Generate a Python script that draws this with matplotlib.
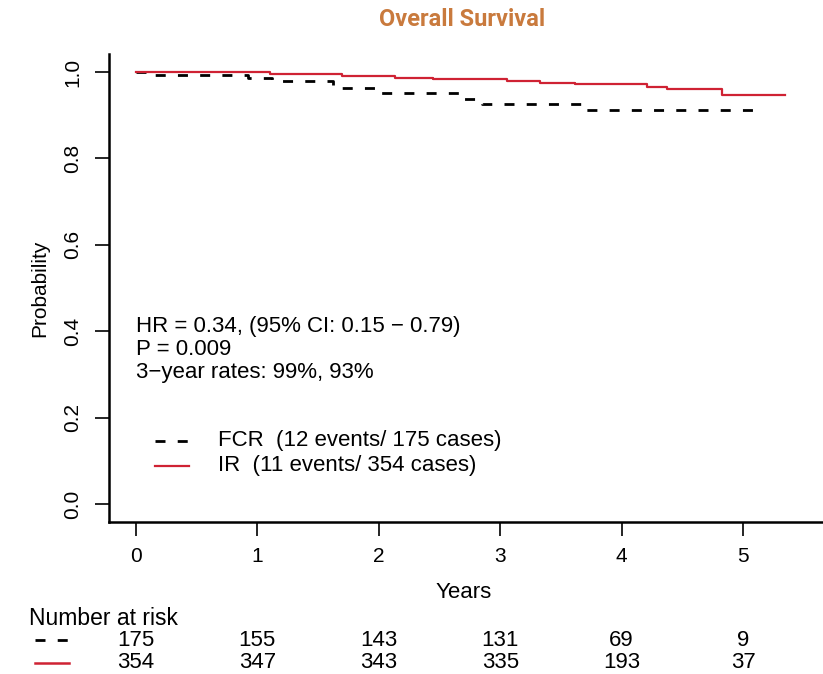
import matplotlib
matplotlib.use("Agg")
import matplotlib.pyplot as plt

# Kaplan-Meier step data (years, survival probability)
fcr_times = [0.0, 0.15, 0.92, 1.12, 1.62, 2.00, 2.66, 2.85, 3.71]
fcr_surv = [1.000, 0.994, 0.987, 0.980, 0.962, 0.952, 0.938, 0.926, 0.913]
fcr_end = 5.16

ir_times = [0.0, 1.10, 1.70, 2.13, 2.45, 3.06, 3.33, 3.62, 4.21, 4.37, 4.83]
ir_surv = [1.000, 0.995, 0.991, 0.987, 0.983, 0.979, 0.975, 0.972, 0.966, 0.960, 0.946]
ir_end = 5.35

year_ticks = [0, 1, 2, 3, 4, 5]
prob_ticks = [0.0, 0.2, 0.4, 0.6, 0.8, 1.0]
risk_fcr = [175, 155, 143, 131, 69, 9]
risk_ir = [354, 347, 343, 335, 193, 37]

stats_lines = ["HR = 0.34, (95% CI: 0.15 \u2212 0.79)",
               "P = 0.009",
               "3\u2212year rates: 99%, 93%"]
legend_labels = ["FCR  (12 events/ 175 cases)", "IR  (11 events/ 354 cases)"]

RED = "#cf2233"
DASH = (0, (3.6, 4.4))

plt.rcParams["font.family"] = ["Liberation Sans", "DejaVu Sans"]

W, H = 823, 674
fig = plt.figure(figsize=(W / 100, H / 100), dpi=100)
fig.patch.set_facecolor("white")

# axes box in pixels: left 109, right 823, top 54, bottom 522
ax = fig.add_axes([109 / W, (H - 522) / H, (823 - 109) / W, (522 - 54) / H])
ax.set_xlim(-0.222, 5.659)
ax.set_ylim(-0.0417, 1.0417)

# survival curves
ax.step(fcr_times + [fcr_end], fcr_surv + [fcr_surv[-1]], where="post",
        color="black", lw=2.0, linestyle=DASH, zorder=3)
ax.step(ir_times + [ir_end], ir_surv + [ir_surv[-1]], where="post",
        color=RED, lw=1.6, zorder=4)

# R-style L box
for s in ["top", "right"]:
    ax.spines[s].set_visible(False)
for s in ["left", "bottom"]:
    ax.spines[s].set_linewidth(1.8)
ax.set_xticks(year_ticks)
ax.set_xticklabels([str(t) for t in year_ticks])
ax.set_yticks(prob_ticks)
ax.set_yticklabels(["%.1f" % p for p in prob_ticks], rotation=90, va="center")
ax.tick_params(axis="both", length=10, width=1.2, labelsize=15, colors="black")
ax.tick_params(axis="y", pad=9)
ax.tick_params(axis="x", pad=8)
ax.set_ylabel("Probability", fontsize=15, labelpad=10)

# statistics text
for i, line in enumerate(stats_lines):
    ax.text(0.0, 0.41 - i * 0.053, line, fontsize=16, va="center", ha="left")

# hand-drawn legend
ax.plot([0.16, 0.44], [0.146, 0.146], color="black", lw=2.0, linestyle=DASH)
ax.plot([0.16, 0.44], [0.088, 0.088], color=RED, lw=1.6)
ax.text(0.675, 0.146, legend_labels[0], fontsize=16, va="center", ha="left")
ax.text(0.675, 0.088, legend_labels[1], fontsize=16, va="center", ha="left")

# x label and number-at-risk table
ax.text(2.7, -0.206, "Years", fontsize=16, ha="center", va="center", clip_on=False)
ax.text(-0.877, -0.264, "Number at risk", fontsize=16.5, ha="left", va="center",
        clip_on=False)
ax.plot([-0.83, -0.55], [-0.315, -0.315], color="black", lw=2.0, linestyle=DASH,
        clip_on=False)
ax.plot([-0.83, -0.55], [-0.368, -0.368], color=RED, lw=1.8, clip_on=False)
for t, a, b in zip(year_ticks, risk_fcr, risk_ir):
    ax.text(t, -0.315, str(a), fontsize=16, ha="center", va="center", clip_on=False)
    ax.text(t, -0.368, str(b), fontsize=16, ha="center", va="center", clip_on=False)

fig.text(462 / W, 1 - 20 / H, "Overall Survival", fontsize=17, fontweight="bold",
         color="#c97a3d", ha="center", va="center", family=["Roboto", "DejaVu Sans"])

fig.savefig("out.png", dpi=100, facecolor="white")
